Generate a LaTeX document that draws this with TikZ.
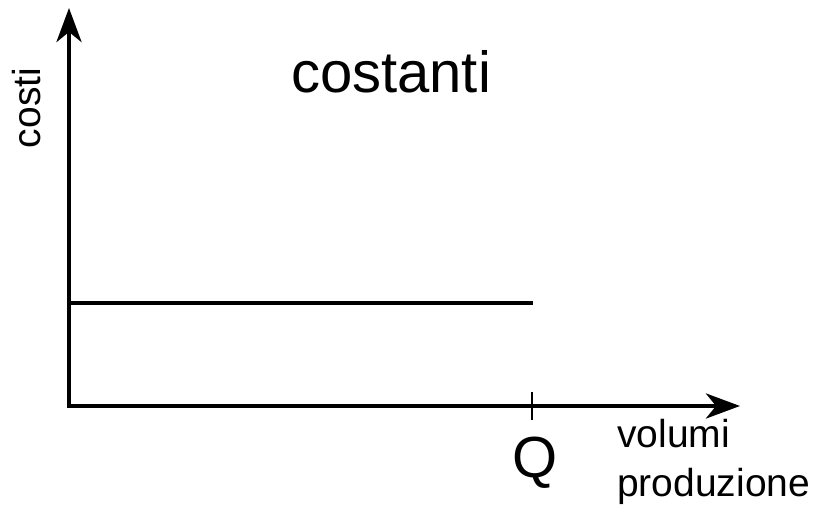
\documentclass[tikz,border=0pt]{standalone}
\usepackage{fontspec}
\setmainfont{Liberation Sans}
\usetikzlibrary{arrows.meta, positioning}

\begin{document}
\begin{tikzpicture}[x=1pt, y=1pt,
      axis/.style = {line width=4.5pt, -{Stealth[length=34pt, width=25pt, inset=10pt]}},
     level/.style = {line width=4pt},
      tick/.style = {line width=1.5pt},
       big/.style = {font=\fontsize{58}{70}\selectfont, inner sep=0pt},
       lbl/.style = {font=\fontsize{39}{47}\selectfont, inner sep=0pt}
                        ]
\useasboundingbox (0,0) rectangle (816,510);
\coordinate (O)    at (69,104);
\coordinate (ytop) at (69,502);
\coordinate (xend) at (740,104);
\coordinate (c0)   at (69,207);
\coordinate (c1)   at (533,207);
\coordinate (tq)   at (532,104);
\draw[axis] ([yshift=-2.25pt]O) -- (ytop);
\draw[axis] ([xshift=-2.25pt]O) -- (xend);
\draw[level] (c0) -- (c1);
\draw[tick] ([yshift=14pt]tq) -- ([yshift=-14pt]tq);
\node (costanti) [big, anchor=base] at (391,417) {costanti};
\node (costi) [lbl, rotate=90, anchor=base] at (40,402) {costi};
\node (Q) [big, anchor=base] at (535,32) {Q};
\node (vol) [lbl, anchor=base west] at (617,62) {volumi};
\node (prod) [lbl, anchor=base west] at ([yshift=-49pt]vol.base west) {produzione};
\end{tikzpicture}
\end{document}
